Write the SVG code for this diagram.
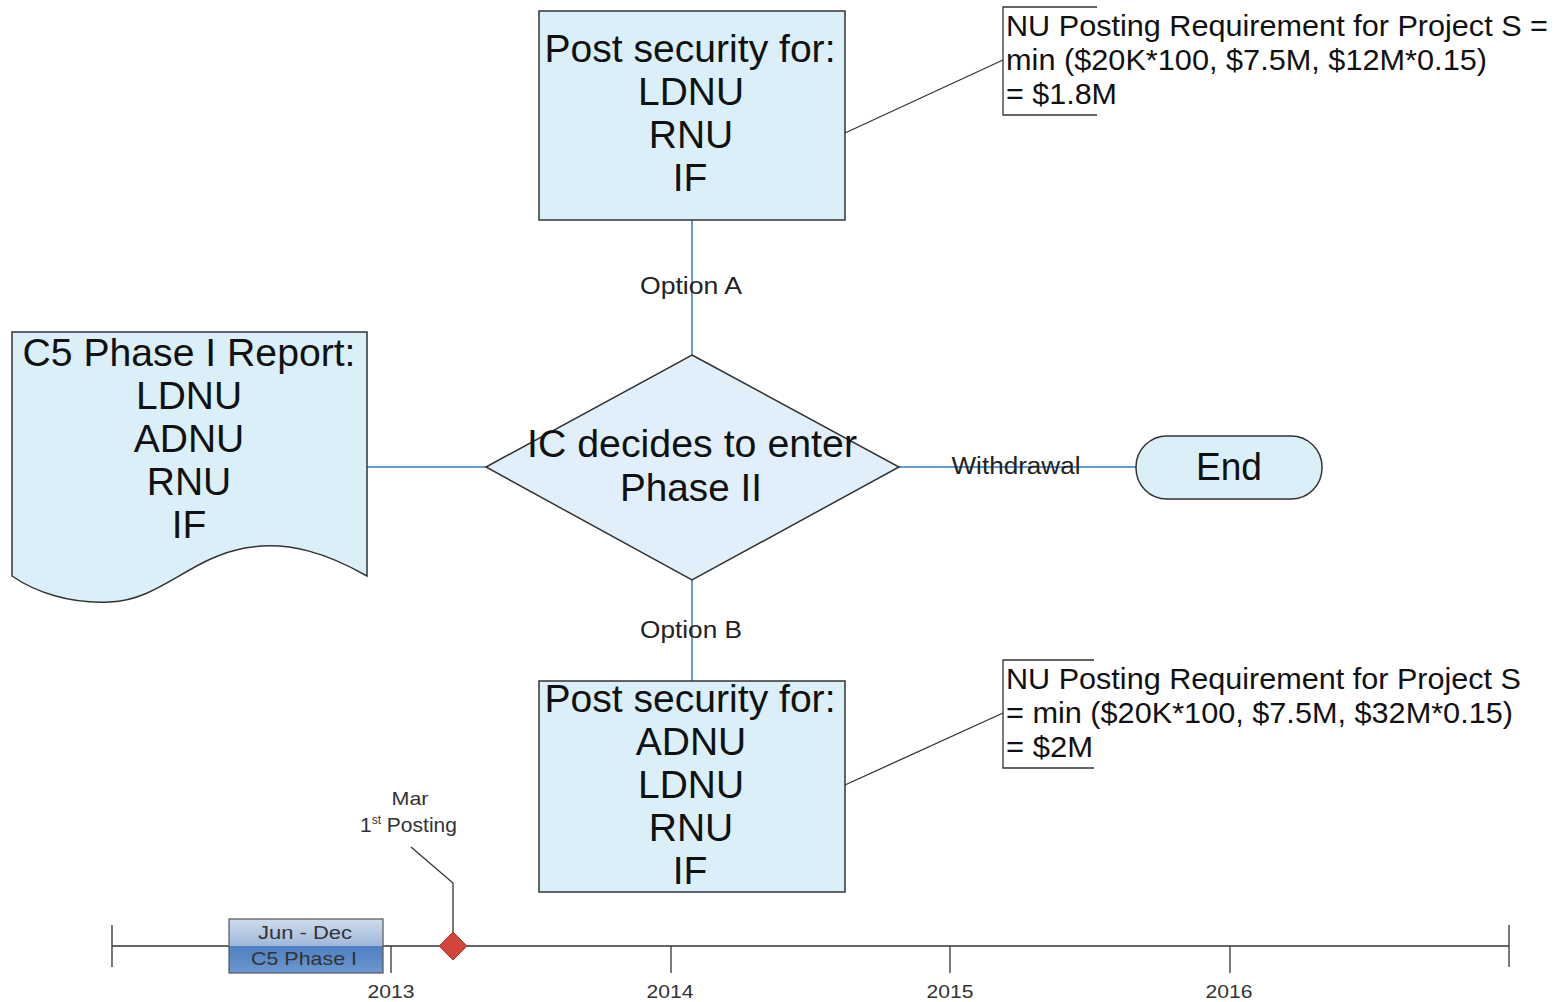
<svg xmlns="http://www.w3.org/2000/svg" width="1556" height="1002" viewBox="0 0 1556 1002">
<defs>
<style>
.shape{fill:#dbeff8;stroke:#333;stroke-width:1.5}
.big{font-family:"Liberation Sans",Arial,sans-serif;font-size:39px;fill:#111;text-anchor:middle}
.lbl{font-family:"Liberation Sans",Arial,sans-serif;font-size:23px;fill:#222;text-anchor:middle}
.note{font-family:"Liberation Sans",Arial,sans-serif;font-size:29px;fill:#111}
.yr{font-family:"Liberation Sans",Arial,sans-serif;font-size:19px;fill:#333;text-anchor:middle}
.conn{stroke:#2f7cc4;stroke-width:1.5;fill:none}
.thin{stroke:#333;stroke-width:1.3;fill:none}
</style>
<linearGradient id="barTop" x1="0" y1="0" x2="0" y2="1"><stop offset="0" stop-color="#cfdbeb"/><stop offset="1" stop-color="#9fb8dc"/></linearGradient>
<linearGradient id="barBot" x1="0" y1="0" x2="0" y2="1"><stop offset="0" stop-color="#4f7fbf"/><stop offset="1" stop-color="#6c98d2"/></linearGradient>
</defs>
<rect width="1556" height="1002" fill="#fff"/>
<g id="connectors">
<line class="conn" x1="692" y1="220" x2="692" y2="355"/>
<line class="conn" x1="692" y1="580" x2="692" y2="681"/>
<line class="conn" x1="367" y1="467" x2="486" y2="467"/>
<line class="conn" x1="899" y1="467" x2="1136" y2="467"/>
<line class="thin" x1="845" y1="133" x2="1003" y2="60"/>
<line class="thin" x1="845" y1="785" x2="1003" y2="713"/>
<text class="lbl" x="691" y="294" textLength="102" lengthAdjust="spacingAndGlyphs">Option A</text>
<text class="lbl" x="691" y="638" textLength="102" lengthAdjust="spacingAndGlyphs">Option B</text>
<text class="lbl" x="1016" y="474" textLength="129" lengthAdjust="spacingAndGlyphs">Withdrawal</text>
</g>
<g id="top-box">
<rect class="shape" x="539" y="11" width="306" height="209"/>
<text class="big" x="690" y="62" textLength="291" lengthAdjust="spacingAndGlyphs">Post security for:</text>
<text class="big" x="691" y="105" textLength="106" lengthAdjust="spacingAndGlyphs">LDNU</text>
<text class="big" x="691" y="148">RNU</text>
<text class="big" x="690" y="191">IF</text>
</g>
<g id="report">
<path class="shape" fill="#ddeefa" d="M12,332 H367 V576 C330,555 290,540 245,548 C190,558 160,600 110,602 C70,604 35,592 12,576 Z"/>
<text class="big" x="189" y="366" textLength="333" lengthAdjust="spacingAndGlyphs">C5 Phase I Report:</text>
<text class="big" x="189" y="409" textLength="106" lengthAdjust="spacingAndGlyphs">LDNU</text>
<text class="big" x="189" y="452">ADNU</text>
<text class="big" x="189" y="495">RNU</text>
<text class="big" x="189" y="538">IF</text>
</g>
<g id="decision">
<polygon class="shape" style="fill:#e1effa" points="692,355 899,467 692,580 486,467"/>
<text class="big" x="692" y="457" textLength="330" lengthAdjust="spacingAndGlyphs">IC decides to enter</text>
<text class="big" x="691" y="501" textLength="142" lengthAdjust="spacingAndGlyphs">Phase II</text>
</g>
<g id="end">
<rect class="shape" x="1136" y="436" width="186" height="63" rx="31" ry="31"/>
<text class="big" x="1229" y="480" textLength="66" lengthAdjust="spacingAndGlyphs">End</text>
</g>
<g id="bottom-box">
<rect class="shape" x="539" y="681" width="306" height="211"/>
<text class="big" x="690" y="712" textLength="291" lengthAdjust="spacingAndGlyphs">Post security for:</text>
<text class="big" x="691" y="755">ADNU</text>
<text class="big" x="691" y="798" textLength="106" lengthAdjust="spacingAndGlyphs">LDNU</text>
<text class="big" x="691" y="841">RNU</text>
<text class="big" x="690" y="884">IF</text>
</g>
<g id="note-a">
<path class="thin" d="M1097,7 H1003 V115 H1097"/>
<text class="note" x="1006" y="36" textLength="542" lengthAdjust="spacingAndGlyphs">NU Posting Requirement for Project S =</text>
<text class="note" x="1006" y="70" textLength="481" lengthAdjust="spacingAndGlyphs">min ($20K*100, $7.5M, $12M*0.15)</text>
<text class="note" x="1006" y="104" textLength="111" lengthAdjust="spacingAndGlyphs">= $1.8M</text>
</g>
<g id="note-b">
<path class="thin" d="M1094,660 H1003 V768 H1094"/>
<text class="note" x="1006" y="689" textLength="515" lengthAdjust="spacingAndGlyphs">NU Posting Requirement for Project S</text>
<text class="note" x="1006" y="723" textLength="507" lengthAdjust="spacingAndGlyphs">= min ($20K*100, $7.5M, $32M*0.15)</text>
<text class="note" x="1006" y="757" textLength="87" lengthAdjust="spacingAndGlyphs">= $2M</text>
</g>
<g id="timeline">
<line class="thin" x1="112" y1="946" x2="1509" y2="946"/>
<line class="thin" x1="112" y1="925" x2="112" y2="967"/>
<line class="thin" x1="1509" y1="925" x2="1509" y2="967"/>
<line class="thin" x1="391" y1="946" x2="391" y2="973"/>
<line class="thin" x1="671" y1="946" x2="671" y2="973"/>
<line class="thin" x1="950" y1="946" x2="950" y2="973"/>
<line class="thin" x1="1230" y1="946" x2="1230" y2="973"/>
<text class="yr" x="391" y="998" textLength="47" lengthAdjust="spacingAndGlyphs">2013</text>
<text class="yr" x="670" y="998" textLength="47" lengthAdjust="spacingAndGlyphs">2014</text>
<text class="yr" x="950" y="998" textLength="47" lengthAdjust="spacingAndGlyphs">2015</text>
<text class="yr" x="1229" y="998" textLength="47" lengthAdjust="spacingAndGlyphs">2016</text>
</g>
<g id="phase-bar">
<rect x="229" y="919" width="154" height="27" fill="url(#barTop)"/>
<rect x="229" y="946" width="154" height="27" fill="url(#barBot)"/>
<rect x="229" y="919" width="154" height="54" fill="none" stroke="#555" stroke-width="1.2"/>
<text class="yr" x="305" y="939" fill="#222" textLength="94" lengthAdjust="spacingAndGlyphs">Jun - Dec</text>
<text class="yr" x="304" y="965" fill="#1a1a1a" textLength="106" lengthAdjust="spacingAndGlyphs">C5 Phase I</text>
</g>
<g id="milestone">
<path class="thin" stroke="#444" d="M411,847 L453,883 V932"/>
<polygon points="453,932 467,946 453,960 439,946" fill="#d2453a" stroke="#b0352c" stroke-width="1"/>
<text class="yr" x="410" y="805" textLength="37" lengthAdjust="spacingAndGlyphs">Mar</text>
<text class="yr" x="360" y="832" style="text-anchor:start;font-size:21px">1<tspan font-size="12" dy="-8">st</tspan><tspan dy="8"> Posting</tspan></text>
</g>
</svg>
